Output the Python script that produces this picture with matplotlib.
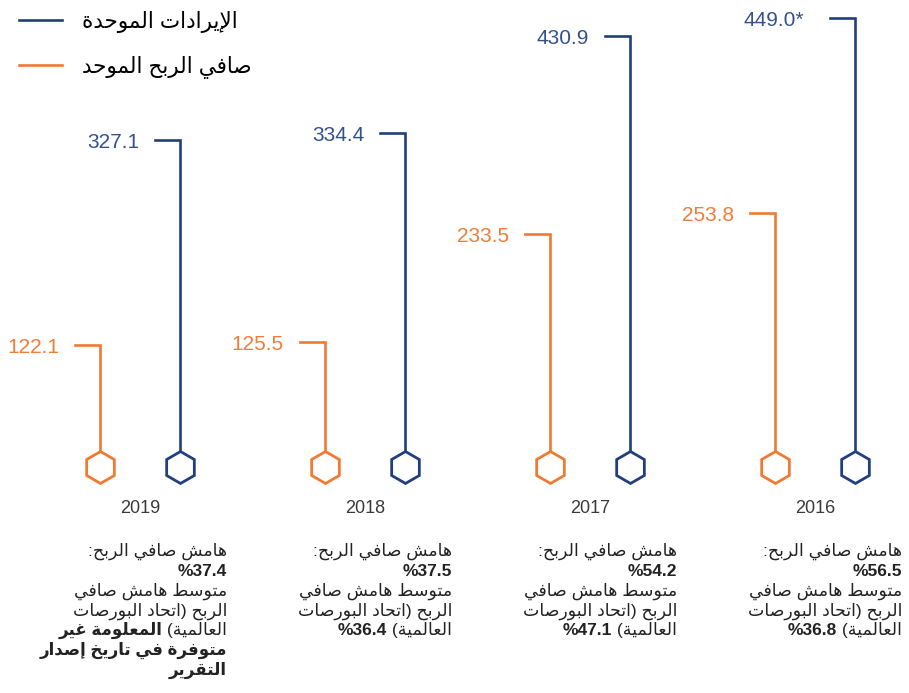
import matplotlib
matplotlib.use('Agg')
import matplotlib.pyplot as plt
from matplotlib.lines import Line2D

# Data
years = ['2019', '2018', '2017', '2016']
revenue = [327.1, 334.4, 430.9, 449.0]
revenue_labels = ['327.1', '334.4', '430.9', '449.0*']
profit = [122.1, 125.5, 233.5, 253.8]
profit_labels = ['122.1', '125.5', '233.5', '253.8']
margin = ['%37.4', '%37.5', '%54.2', '%56.5']
wfe_margin = [None, '%36.4', '%47.1', '%36.8']
not_available = ['المعلومة غير', 'متوفرة في تاريخ إصدار', 'التقرير']
legend_labels = ['الإيرادات الموحدة', 'صافي الربح الموحد']

BLUE = '#213f7f'
ORANGE = '#f07a32'
BLUE_TXT = '#34518f'
ORANGE_TXT = '#f07d3a'
TEXT = '#222222'

plt.rcParams['font.family'] = ['Liberation Sans', 'DejaVu Sans']

# Minimal Arabic shaping (presentation forms) + right-to-left ordering
_letters = [(0x621, 1), (0x622, 2), (0x623, 2), (0x624, 2), (0x625, 2), (0x626, 4), (0x627, 2),
            (0x628, 4), (0x629, 2), (0x62A, 4), (0x62B, 4), (0x62C, 4), (0x62D, 4), (0x62E, 4),
            (0x62F, 2), (0x630, 2), (0x631, 2), (0x632, 2), (0x633, 4), (0x634, 4), (0x635, 4),
            (0x636, 4), (0x637, 4), (0x638, 4), (0x639, 4), (0x63A, 4), (0x641, 4), (0x642, 4),
            (0x643, 4), (0x644, 4), (0x645, 4), (0x646, 4), (0x647, 4), (0x648, 2), (0x649, 2),
            (0x64A, 4)]
FORMS = {}
cp = 0xFE80
for base, n in _letters:
    FORMS[chr(base)] = [chr(cp + k) for k in range(n)]
    cp += n
LAM_ALEF = {'\u0622': 0xFEF5, '\u0623': 0xFEF7, '\u0625': 0xFEF9, '\u0627': 0xFEFB}
MIRROR = {'(': ')', ')': '('}


def shape(s):
    tokens = []
    i = 0
    while i < len(s):
        if s[i] == '\u0644' and i + 1 < len(s) and s[i + 1] in LAM_ALEF:
            tokens.append(('LA', s[i + 1]))
            i += 2
        else:
            tokens.append(('C', s[i]))
            i += 1

    def joins_next(t):
        return t[0] == 'C' and len(FORMS.get(t[1], [])) == 4

    def joins_prev(t):
        return t[0] == 'LA' or len(FORMS.get(t[1], [])) >= 2

    out = []
    for k, t in enumerate(tokens):
        prev = k > 0 and joins_next(tokens[k - 1]) and joins_prev(t)
        nxt = k + 1 < len(tokens) and joins_next(t) and joins_prev(tokens[k + 1])
        if t[0] == 'LA':
            out.append(chr(LAM_ALEF[t[1]] + (1 if prev else 0)))
        elif t[1] in FORMS:
            f = FORMS[t[1]]
            if len(f) == 1:
                out.append(f[0])
            elif len(f) == 2:
                out.append(f[1 if prev else 0])
            else:
                out.append(f[(1 if prev else 0) + (2 if nxt else 0)])
        else:
            out.append(t[1])
    return ''.join(out)


def is_arabic(s):
    return any('\u0600' <= c <= '\u06ff' for c in s)


def rtl(s):
    if not is_arabic(s):
        return s
    return ''.join(MIRROR.get(c, c) for c in reversed(shape(s)))


fig = plt.figure(figsize=(9.09, 6.93), dpi=100)
ax = fig.add_axes([0, 0, 1, 1])
ax.set_xlim(-0.622, 3.418)
ax.set_ylim(-226, 467)
ax.axis('off')

x = list(range(len(years)))
off = 0.178      # half distance between the two markers of a year
tick = 0.111     # length of the horizontal top segment
gap = 0.182      # distance from the vertical line to the value label

for xs, vals, labels, color, tcolor in [([i - off for i in x], profit, profit_labels, ORANGE, ORANGE_TXT),
                                        ([i + off for i in x], revenue, revenue_labels, BLUE, BLUE_TXT)]:
    for xi, v, lab in zip(xs, vals, labels):
        ax.plot([xi - tick, xi, xi], [v, v, 0], color=color, lw=1.9,
                solid_joinstyle='miter', zorder=1)
        g = gap + (0.045 if lab.endswith('*') else 0)
        ax.text(xi - g, v - 2.5, lab, ha='right', va='center', color=tcolor, fontsize=15)
    ax.plot(xs, [0] * len(xs), 'h', ms=23, mfc='white', mec=color, mew=2.0, zorder=3)

for i, y in enumerate(years):
    ax.text(i, -46, y, ha='center', va='baseline', fontsize=13, color='#3a3a3a')

fig.canvas.draw()
renderer = fig.canvas.get_renderer()


def draw_rtl_line(xr, y, segments):
    for text, bold in segments:
        size = 12 if (bold and is_arabic(text)) else 12.5
        t = ax.text(xr, y, rtl(text), ha='right', va='baseline', fontsize=size,
                    fontweight='bold' if bold else 'normal', color=TEXT)
        bb = t.get_window_extent(renderer)
        xr = ax.transData.inverted().transform((bb.x0, bb.y0))[0]


for i in x:
    lines = [[('هامش صافي الربح:', False)],
             [(margin[i], True)],
             [('متوسط هامش صافي', False)],
             [('الربح (اتحاد البورصات', False)]]
    if wfe_margin[i] is None:
        lines.append([('العالمية) ', False), (not_available[0], True)])
        lines.append([(not_available[1], True)])
        lines.append([(not_available[2], True)])
    else:
        lines.append([('العالمية) ', False), (wfe_margin[i], True)])
    for k, segs in enumerate(lines):
        draw_rtl_line(i + off + 0.209, -89 - 19.8 * k, segs)

handles = [Line2D([], [], color=BLUE, lw=1.9), Line2D([], [], color=ORANGE, lw=1.9)]
ax.legend(handles, [rtl(s) for s in legend_labels], loc='upper left',
          bbox_to_anchor=(0.011, 0.997), borderaxespad=0, frameon=False, fontsize=15.5,
          handlelength=2.0, handletextpad=0.95, labelspacing=1.05)

fig.savefig('out.png', dpi=100)
